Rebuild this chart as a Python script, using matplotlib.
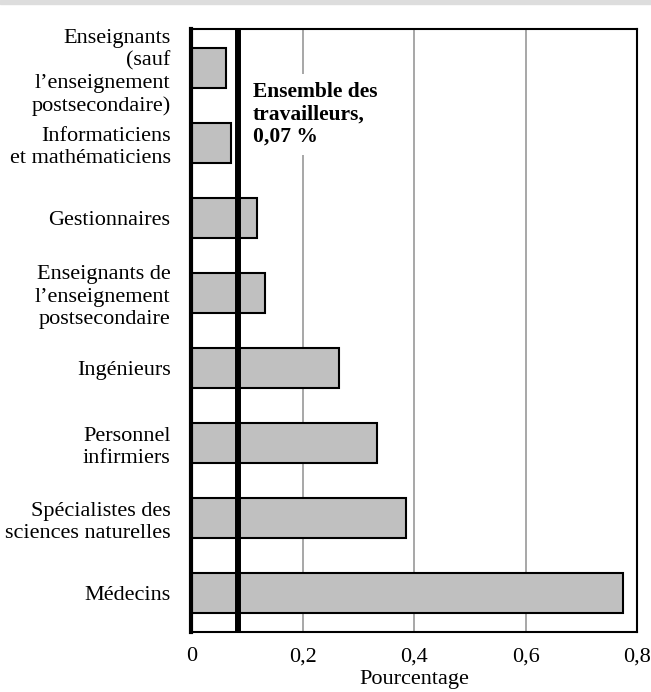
import matplotlib.pyplot as plt
from matplotlib.patches import Rectangle

categories = [
    "Enseignants\n(sauf\nl’enseignement\npostsecondaire)",
    "Informaticiens\net mathématiciens",
    "Gestionnaires",
    "Enseignants de\nl’enseignement\npostsecondaire",
    "Ingénieurs",
    "Personnel\ninfirmiers",
    "Spécialistes des\nsciences naturelles",
    "Médecins",
]
values = [0.063, 0.071, 0.118, 0.132, 0.265, 0.333, 0.386, 0.774]
ensemble = 0.083
ensemble_label = "Ensemble des\ntravailleurs,\n0,07 %"
xticks = [0, 0.2, 0.4, 0.6, 0.8]
xtick_labels = ["0", "0,2", "0,4", "0,6", "0,8"]

plt.rcParams["font.family"] = ["Liberation Serif", "DejaVu Serif"]

fig = plt.figure(figsize=(6.51, 6.92), dpi=100)
fig.subplots_adjust(left=0.294, right=0.9785, top=0.958, bottom=0.0867)
ax = fig.add_subplot(111)

fig.patches.append(Rectangle((0, 1 - 4 / 692), 1, 4 / 692, transform=fig.transFigure,
                             color="#dddddd", zorder=0))

y = list(range(len(categories)))
ax.barh(y, values, height=0.53, color="#c0c0c0", edgecolor="black", linewidth=1.5, zorder=3)

for t in xticks[1:-1]:
    ax.axvline(t, color="#a0a0a0", linewidth=1.3, zorder=1)
ax.axvline(ensemble, color="black", linewidth=4.3, zorder=4)

ax.text(0.11, 0.19, ensemble_label, fontsize=15.5, fontweight="bold", va="top", ha="left",
        linespacing=1.15, zorder=2,
        bbox=dict(facecolor="white", edgecolor="none", pad=6))

ax.set_xlim(0, 0.8)
ax.set_ylim(7.52, -0.52)
ax.set_yticks(y)
ax.set_yticklabels(categories, fontsize=16, linespacing=1.22)
ax.set_xticks(xticks)
ax.set_xticklabels(xtick_labels, fontsize=16)
ax.tick_params(axis="both", length=0)
ax.tick_params(axis="x", pad=11)
ax.tick_params(axis="y", pad=15)
ax.set_xlabel("Pourcentage", fontsize=16, labelpad=3)

for s in ax.spines.values():
    s.set_linewidth(1.5)
    s.set_zorder(5)
ax.spines["left"].set_linewidth(3)

fig.savefig("out.png", dpi=100, facecolor="white")
